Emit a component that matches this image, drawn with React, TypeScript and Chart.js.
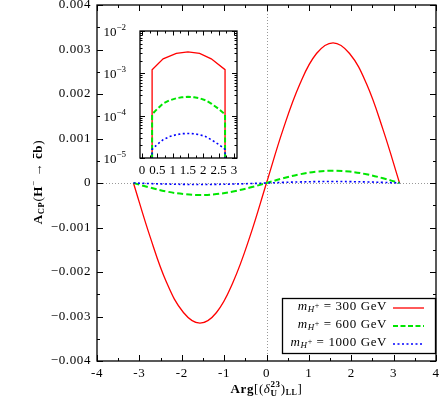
import React, { useEffect, useRef } from "react";
import { Chart, registerables } from "chart.js";

Chart.register(...registerables);

// ---------- data ----------
const xMain = [-3.14, -2.75, -2.36, -1.96, -1.57, -1.18, -0.79, -0.39, 0, 0.39, 0.79, 1.18, 1.57, 1.96, 2.36, 2.75, 3.14];
const red300 = [0, -0.0012, -0.00223, -0.00291, -0.00315, -0.00291, -0.00223, -0.0012, 0, 0.0012, 0.00223, 0.00291, 0.00315, 0.00291, 0.00223, 0.0012, 0];
const green600 = [0, -0.000103, -0.000191, -0.000249, -0.00027, -0.000249, -0.000191, -0.000103, 0, 0.000106, 0.000196, 0.000256, 0.000277, 0.000256, 0.000196, 0.000106, 0];
const blue1000 = [0, -0.000013, -0.000024, -0.000031, -0.000034, -0.000031, -0.000024, -0.000013, 0, 0.000013, 0.000024, 0.000031, 0.000034, 0.000031, 0.000024, 0.000013, 0];

const xInsetRed = [0.33, 0.33, 0.69, 1.12, 1.5, 1.88, 2.26, 2.71, 2.71];
const redInset = [1e-8, 0.00122, 0.0022, 0.00295, 0.0032, 0.00295, 0.0022, 0.00122, 1e-8];
const xInsetSmooth = [0.33, 0.33, 0.5, 0.69, 0.9, 1.12, 1.3, 1.5, 1.7, 1.88, 2.08, 2.26, 2.5, 2.71, 2.71];
const greenInset = [1e-8, 0.000108, 0.000145, 0.000193, 0.00023, 0.000258, 0.000272, 0.00028, 0.000272, 0.000258, 0.00023, 0.000193, 0.000145, 0.000108, 1e-8];
const blueInset = [1e-8, 0.000016, 0.000021, 0.000027, 0.000032, 0.0000355, 0.0000375, 0.000038, 0.0000375, 0.0000355, 0.000032, 0.000027, 0.000021, 0.000016, 1e-8];

const yTickValues = [0.004, 0.003, 0.002, 0.001, 0, -0.001, -0.002, -0.003, -0.004];
const yTickLabels = ["0.004", "0.003", "0.002", "0.001", "0", "\u22120.001", "\u22120.002", "\u22120.003", "\u22120.004"];
const xTickValues = [-4, -3, -2, -1, 0, 1, 2, 3, 4];
const xTickLabels = ["-4", "-3", "-2", "-1", "0", "1", "2", "3", "4"];
const insetXTickValues = [0, 0.5, 1, 1.5, 2, 2.5, 3];
const insetXTickLabels = ["0", "0.5", "1", "1.5", "2", "2.5", "3"];
const insetYDecades = [-2, -3, -4, -5];
const insetYExpLabels = ["\u22122", "\u22123", "\u22124", "\u22125"];

const legendLabels = ["300", "600", "1000"];

const RED = "#ff0000";
const GREEN = "#00e600";
const BLUE = "#0000ff";
const FF = "'Liberation Serif', 'DejaVu Serif', serif";
const LS = "0.6px";

type Seg = { t: string; font: string; dy?: number; over?: boolean; stackSub?: Seg };

function segW(ctx: CanvasRenderingContext2D, s: Seg) {
  ctx.font = s.font;
  let w = ctx.measureText(s.t).width;
  if (s.stackSub) {
    ctx.font = s.stackSub.font;
    w = Math.max(w, ctx.measureText(s.stackSub.t).width);
  }
  return w;
}

function drawRich(ctx: CanvasRenderingContext2D, segs: Seg[], x: number, y: number, align: "left" | "center" | "right") {
  let total = 0;
  for (const s of segs) total += segW(ctx, s);
  let cx = align === "left" ? x : align === "center" ? x - total / 2 : x - total;
  ctx.textAlign = "left";
  ctx.textBaseline = "middle";
  for (const s of segs) {
    const w = segW(ctx, s);
    ctx.font = s.font;
    ctx.fillText(s.t, cx, y + (s.dy || 0));
    if (s.over) {
      const tw = ctx.measureText(s.t).width;
      ctx.save();
      ctx.lineWidth = 1;
      ctx.beginPath();
      ctx.moveTo(cx + 1, y - 5.5);
      ctx.lineTo(cx + tw - 1, y - 5.5);
      ctx.stroke();
      ctx.restore();
    }
    if (s.stackSub) {
      ctx.font = s.stackSub.font;
      ctx.fillText(s.stackSub.t, cx, y + (s.stackSub.dy || 0));
    }
    cx += w;
  }
}

function pts(xs: number[], ys: number[]) {
  return xs.map((x, i) => ({ x, y: ys[i] }));
}

const mainPlugin = {
  id: "mainDeco",
  beforeDatasetsDraw(chart: any) {
    const { ctx, chartArea: a, scales } = chart;
    const x0 = scales.x.getPixelForValue(0);
    const y0 = scales.y.getPixelForValue(0);
    ctx.save();
    ctx.strokeStyle = "#999";
    ctx.lineWidth = 1;
    ctx.setLineDash([1, 2]);
    ctx.beginPath();
    ctx.moveTo(a.left, Math.round(y0) + 0.5);
    ctx.lineTo(a.right, Math.round(y0) + 0.5);
    ctx.moveTo(Math.round(x0) + 0.5, a.top);
    ctx.lineTo(Math.round(x0) + 0.5, a.bottom);
    ctx.stroke();
    ctx.restore();
  },
  afterDraw(chart: any) {
    const { ctx, chartArea: a, scales } = chart;
    const sx = scales.x;
    const sy = scales.y;
    ctx.save();
    ctx.letterSpacing = LS;
    ctx.strokeStyle = "#000";
    ctx.fillStyle = "#000";
    ctx.lineWidth = 1.3;
    ctx.strokeRect(a.left, a.top, a.right - a.left, a.bottom - a.top);
    // ticks
    ctx.lineWidth = 1;
    ctx.beginPath();
    for (let v = -4; v <= 4.001; v += 0.5) {
      const px = Math.round(sx.getPixelForValue(v)) + 0.5;
      const len = Math.abs(v - Math.round(v)) < 0.01 ? 6 : 3;
      ctx.moveTo(px, a.bottom);
      ctx.lineTo(px, a.bottom - len);
      ctx.moveTo(px, a.top);
      ctx.lineTo(px, a.top + len);
    }
    for (let i = -8; i <= 8; i++) {
      const v = i * 0.0005;
      const py = Math.round(sy.getPixelForValue(v)) + 0.5;
      const len = i % 2 === 0 ? 6 : 3;
      ctx.moveTo(a.left, py);
      ctx.lineTo(a.left + len, py);
      ctx.moveTo(a.right, py);
      ctx.lineTo(a.right - len, py);
    }
    ctx.stroke();
    // tick labels
    ctx.font = `13px ${FF}`;
    ctx.textAlign = "right";
    ctx.textBaseline = "middle";
    yTickValues.forEach((v, i) => {
      ctx.fillText(yTickLabels[i], a.left - 6, sy.getPixelForValue(v));
    });
    ctx.textAlign = "center";
    xTickValues.forEach((v, i) => {
      ctx.fillText(xTickLabels[i], sx.getPixelForValue(v), a.bottom + 13);
    });
    // x title
    const B = `bold 13px ${FF}`;
    const R = `13px ${FF}`;
    const I = `italic 13px ${FF}`;
    const bs = `bold 9px ${FF}`;
    drawRich(
      ctx,
      [
        { t: "Arg", font: B },
        { t: "[(", font: R },
        { t: "\u03b4", font: I },
        { t: "23", font: bs, dy: -5, stackSub: { t: "U", font: bs, dy: 4 } },
        { t: ")", font: R },
        { t: "LL", font: `bold 8px ${FF}`, dy: 3 },
        { t: "]", font: R },
      ],
      (a.left + a.right) / 2,
      390,
      "center"
    );
    // y title
    ctx.save();
    ctx.translate(39, 182);
    ctx.rotate(-Math.PI / 2);
    drawRich(
      ctx,
      [
        { t: "A", font: B },
        { t: "CP", font: `bold 8.5px ${FF}`, dy: 3 },
        { t: "(", font: R },
        { t: "H", font: B },
        { t: "\u2212", font: `9px ${FF}`, dy: -5 },
        { t: " \u2192 ", font: R },
        { t: "c", font: B, over: true },
        { t: "b", font: B },
        { t: ")", font: R },
      ],
      0,
      0,
      "center"
    );
    ctx.restore();
    // legend
    const lx0 = 282.5, lx1 = 435.5, ly0 = 298.5, ly1 = 353.5;
    ctx.fillStyle = "#fff";
    ctx.fillRect(lx0, ly0, lx1 - lx0, ly1 - ly0);
    ctx.fillStyle = "#000";
    ctx.lineWidth = 1.3;
    ctx.strokeRect(lx0, ly0, lx1 - lx0, ly1 - ly0);
    const rows = [307, 325, 343];
    const cols = [RED, GREEN, BLUE];
    const dashes = [[], [5, 2.5], [2, 2.5]];
    const widths = [1.3, 2, 1.6];
    rows.forEach((ry, i) => {
      drawRich(
        ctx,
        [
          { t: "m", font: I },
          { t: "H", font: `italic 9px ${FF}`, dy: 3 },
          { t: "+", font: `8px ${FF}`, dy: -1 },
          { t: " = " + legendLabels[i] + " GeV", font: R },
        ],
        387,
        ry,
        "right"
      );
      ctx.save();
      ctx.strokeStyle = cols[i];
      ctx.lineWidth = widths[i];
      ctx.setLineDash(dashes[i]);
      ctx.beginPath();
      ctx.moveTo(393, ry + 1);
      ctx.lineTo(424, ry + 1);
      ctx.stroke();
      ctx.restore();
    });
    ctx.restore();
  },
};

const insetPlugin = {
  id: "insetDeco",
  afterDraw(chart: any) {
    const { ctx, chartArea: a, scales } = chart;
    const sx = scales.x;
    const sy = scales.y;
    ctx.save();
    ctx.letterSpacing = LS;
    ctx.strokeStyle = "#000";
    ctx.fillStyle = "#000";
    ctx.lineWidth = 1.3;
    ctx.strokeRect(a.left, a.top, a.right - a.left, a.bottom - a.top);
    ctx.lineWidth = 1;
    ctx.beginPath();
    for (let i = 0; i <= 12; i++) {
      const v = i * 0.25;
      const px = Math.round(sx.getPixelForValue(v)) + 0.5;
      const len = i % 2 === 0 ? 4.5 : 2.5;
      ctx.moveTo(px, a.bottom);
      ctx.lineTo(px, a.bottom - len);
      ctx.moveTo(px, a.top);
      ctx.lineTo(px, a.top + len);
    }
    for (let d = -5; d <= -2; d++) {
      for (let m = 1; m <= 9; m++) {
        if (d === -2 && m > 1) break;
        const v = m * Math.pow(10, d);
        const py = Math.round(sy.getPixelForValue(v)) + 0.5;
        const len = m === 1 ? 5 : 2.5;
        ctx.moveTo(a.left, py);
        ctx.lineTo(a.left + len, py);
        ctx.moveTo(a.right, py);
        ctx.lineTo(a.right - len, py);
      }
    }
    ctx.stroke();
    ctx.font = `13px ${FF}`;
    ctx.textAlign = "center";
    ctx.textBaseline = "middle";
    ctx.letterSpacing = "0px";
    insetXTickValues.forEach((v, i) => {
      ctx.fillText(insetXTickLabels[i], sx.getPixelForValue(v), a.bottom + 13);
    });
    insetYDecades.forEach((d, i) => {
      drawRich(
        ctx,
        [
          { t: "10", font: `13px ${FF}`, dy: 1.5 },
          { t: insetYExpLabels[i], font: `9px ${FF}`, dy: -3.5 },
        ],
        a.left - 14,
        sy.getPixelForValue(Math.pow(10, d)),
        "right"
      );
    });
    ctx.restore();
  },
};

export default function App() {
  const mainRef = useRef<HTMLCanvasElement>(null);
  const insetRef = useRef<HTMLCanvasElement>(null);

  useEffect(() => {
    const common = {
      pointRadius: 0,
      fill: false,
      tension: 0.4,
    };
    const main = new Chart(mainRef.current!, {
      type: "line",
      data: {
        datasets: [
          { ...common, data: pts(xMain, blue1000), borderColor: BLUE, borderWidth: 1.6, borderDash: [2, 2.5] },
          { ...common, data: pts(xMain, green600), borderColor: GREEN, borderWidth: 2, borderDash: [6, 3] },
          { ...common, data: pts(xMain, red300), borderColor: RED, borderWidth: 1.3 },
        ],
      },
      options: {
        responsive: false,
        animation: false,
        devicePixelRatio: 1,
        layout: { padding: { left: 97, right: 7, top: 5, bottom: 38 } },
        scales: {
          x: { type: "linear", min: -4, max: 4, display: false },
          y: { type: "linear", min: -0.004, max: 0.004, display: false },
        },
        plugins: { legend: { display: false }, tooltip: { enabled: false } },
      },
      plugins: [mainPlugin],
    } as any);

    const ic = { pointRadius: 0, fill: false, tension: 0 };
    const inset = new Chart(insetRef.current!, {
      type: "line",
      data: {
        datasets: [
          { ...ic, data: pts(xInsetSmooth, blueInset), borderColor: BLUE, borderWidth: 1.6, borderDash: [2, 2.5] },
          { ...ic, data: pts(xInsetSmooth, greenInset), borderColor: GREEN, borderWidth: 2, borderDash: [5, 2.5] },
          { ...ic, data: pts(xInsetRed, redInset), borderColor: RED, borderWidth: 1.3 },
        ],
      },
      options: {
        responsive: false,
        animation: false,
        devicePixelRatio: 1,
        layout: { padding: { left: 40, right: 8, top: 11, bottom: 24 } },
        scales: {
          x: { type: "linear", min: -0.065, max: 3.1, display: false },
          y: { type: "logarithmic", min: 1e-5, max: 1e-2, display: false },
        },
        plugins: { legend: { display: false }, tooltip: { enabled: false } },
      },
      plugins: [insetPlugin],
    } as any);

    return () => {
      main.destroy();
      inset.destroy();
    };
  }, []);

  return (
    <div style={{ position: "fixed", left: 0, top: 0, width: 443, height: 399, background: "#fff" }}>
      <canvas ref={mainRef} width={443} height={399} style={{ position: "absolute", left: 0, top: 0 }} />
      <canvas ref={insetRef} width={145} height={162} style={{ position: "absolute", left: 100, top: 20 }} />
    </div>
  );
}
